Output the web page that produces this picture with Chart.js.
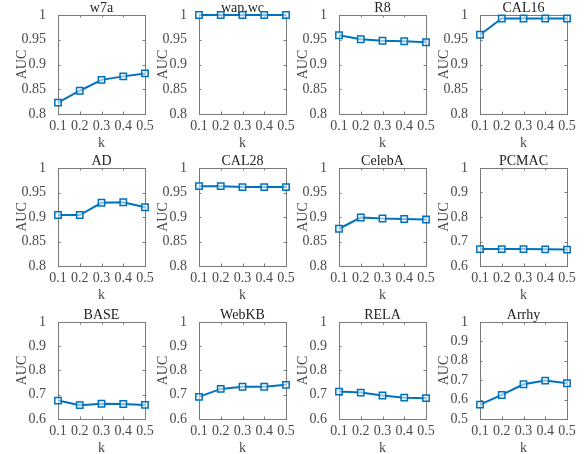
<!DOCTYPE html>
<html>
<head>
<meta charset="utf-8">
<script src="https://cdn.jsdelivr.net/npm/chart.js@4"></script>
<style>
    html, body { margin: 0; padding: 0; background: #fff; overflow: hidden; }
    #fig { position: relative; width: 587px; height: 454px; overflow: hidden; }
    .panel { position: absolute; }
</style>
</head>
<body>
<div id="fig"></div>
<script>
// Datos
const kValores = ['0.1', '0.2', '0.3', '0.4', '0.5'];
const titulos = ['w7a', 'wap.wc', 'R8', 'CAL16', 'AD', 'CAL28', 'CelebA', 'PCMAC', 'BASE', 'WebKB', 'RELA', 'Arrhy'];

const w7a    = [0.823, 0.847, 0.869, 0.876, 0.882];
const wapwc  = [1.000, 1.000, 1.000, 1.000, 1.000];
const r8     = [0.959, 0.951, 0.948, 0.947, 0.945];
const cal16  = [0.960, 0.993, 0.993, 0.993, 0.993];
const ad     = [0.904, 0.904, 0.929, 0.930, 0.920];
const cal28  = [0.963, 0.963, 0.961, 0.961, 0.961];
const celebA = [0.876, 0.899, 0.897, 0.896, 0.895];
const pcmac  = [0.669, 0.669, 0.669, 0.668, 0.667];
const base   = [0.676, 0.657, 0.663, 0.662, 0.658];
const webkb  = [0.691, 0.724, 0.733, 0.733, 0.741];
const rela   = [0.713, 0.709, 0.697, 0.688, 0.686];
const arrhy  = [0.574, 0.624, 0.679, 0.698, 0.684];

const series = [w7a, wapwc, r8, cal16, ad, cal28, celebA, pcmac, base, webkb, rela, arrhy];

// Rango del eje y de cada panel
const yMin  = [0.8, 0.8, 0.8, 0.8, 0.8, 0.8, 0.8, 0.6, 0.6, 0.6, 0.6, 0.5];
const yMax  = [1, 1, 1, 1, 1, 1, 1, 1, 1, 1, 1, 1];
const yPaso = [0.05, 0.05, 0.05, 0.05, 0.05, 0.05, 0.05, 0.1, 0.1, 0.1, 0.1, 0.1];

// Posicion de cada area de dibujo (pixeles)
const colIzq = [58, 199, 339, 480];
const filaSup = [15, 168, 322];
const filaAlto = [99, 98, 97];
const anchoArea = 87;
const margenLado = 58;
const margenSup = 15;
const margenInf = 40;

const AZUL = '#0072BD';
const GRIS_EJE = '#7a7a7a';
const TEXTO = '#4a4a4a';
const FUENTE = "'Liberation Serif', 'Times New Roman', serif";

// Marco completo con marcas hacia adentro (estilo MATLAB) y titulo del panel
const marcoPlugin = {
    id: 'marco',
    beforeDatasetsDraw(chart, args, opts) {
        const { ctx, chartArea: a, scales } = chart;
        const largo = 2.5;
        ctx.save();
        ctx.strokeStyle = GRIS_EJE;
        ctx.lineWidth = 1;
        ctx.strokeRect(Math.round(a.left) + 0.5, Math.round(a.top) + 0.5,
            Math.round(a.right - a.left), Math.round(a.bottom - a.top));
        ctx.beginPath();
        scales.x.ticks.forEach((t, i) => {
            const x = Math.round(scales.x.getPixelForTick(i)) + 0.5;
            ctx.moveTo(x, a.bottom); ctx.lineTo(x, a.bottom - largo);
            ctx.moveTo(x, a.top); ctx.lineTo(x, a.top + largo);
        });
        scales.y.ticks.forEach(t => {
            const y = Math.round(scales.y.getPixelForValue(t.value)) + 0.5;
            ctx.moveTo(a.left, y); ctx.lineTo(a.left + largo, y);
            ctx.moveTo(a.right, y); ctx.lineTo(a.right - largo, y);
        });
        ctx.stroke();

        // titulo centrado sobre el area
        ctx.fillStyle = '#222';
        ctx.font = '14px ' + FUENTE;
        ctx.textAlign = 'center';
        ctx.textBaseline = 'alphabetic';
        ctx.fillText(opts.texto, (a.left + a.right) / 2, a.top - 3.5);
        ctx.restore();
    }
};

function crearPanel(i) {
    const fila = Math.floor(i / 4);
    const col = i % 4;
    const alto = filaAlto[fila];

    const div = document.createElement('div');
    div.className = 'panel';
    div.style.left = (colIzq[col] - margenLado) + 'px';
    div.style.top = (filaSup[fila] - margenSup) + 'px';
    div.style.width = (margenLado * 2 + anchoArea) + 'px';
    div.style.height = (margenSup + alto + margenInf) + 'px';
    const canvas = document.createElement('canvas');
    div.appendChild(canvas);
    document.getElementById('fig').appendChild(div);

    new Chart(canvas, {
        type: 'line',
        data: {
            labels: kValores,
            datasets: [{
                data: series[i],
                borderColor: AZUL,
                borderWidth: 2,
                pointStyle: 'rect',
                pointRadius: 4.5,
                pointBorderWidth: 1.5,
                pointBorderColor: AZUL,
                pointBackgroundColor: 'rgba(255,255,255,0.55)',
                tension: 0,
                clip: false
            }]
        },
        options: {
            responsive: true,
            maintainAspectRatio: false,
            animation: false,
            events: [],
            layout: { padding: { left: 0, right: margenLado, top: margenSup, bottom: 0 } },
            plugins: {
                legend: { display: false },
                tooltip: { enabled: false },
                marco: { texto: titulos[i] }
            },
            scales: {
                x: {
                    type: 'category',
                    offset: false,
                    grid: { display: false },
                    border: { display: false },
                    ticks: {
                        color: TEXTO,
                        font: { family: FUENTE, size: 14, lineHeight: 1 },
                        padding: -3,
                        maxRotation: 0,
                        autoSkip: false
                    },
                    title: {
                        display: true,
                        text: 'k',
                        color: TEXTO,
                        font: { family: FUENTE, size: 14 },
                        padding: { top: 0, bottom: 2 }
                    },
                    afterFit: scale => { scale.height = margenInf; }
                },
                y: {
                    min: yMin[i],
                    max: yMax[i],
                    grid: { display: false },
                    border: { display: false },
                    ticks: {
                        stepSize: yPaso[i],
                        color: TEXTO,
                        font: { family: FUENTE, size: 14, lineHeight: 1 },
                        padding: 4,
                        callback: v => String(+Number(v).toFixed(2))
                    },
                    afterBuildTicks: scale => {
                        const n = Math.round((yMax[i] - yMin[i]) / yPaso[i]);
                        const marcas = [];
                        for (let j = 0; j <= n; j++) marcas.push({ value: +(yMin[i] + j * yPaso[i]).toFixed(2) });
                        scale.ticks = marcas;
                    },
                    title: {
                        display: true,
                        text: 'AUC',
                        color: TEXTO,
                        font: { family: FUENTE, size: 14 },
                        padding: { top: 14, bottom: 0 }
                    },
                    afterFit: scale => { scale.width = margenLado; }
                }
            }
        },
        plugins: [marcoPlugin]
    });
}

titulos.forEach((t, i) => crearPanel(i));
</script>
</body>
</html>
